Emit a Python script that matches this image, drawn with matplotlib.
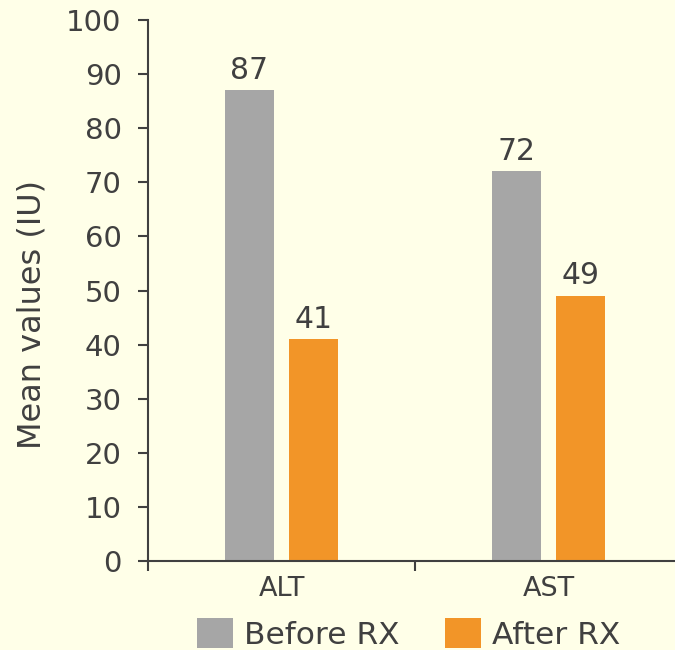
import matplotlib
matplotlib.use("Agg")
import matplotlib.pyplot as plt
import numpy as np

categories = ["ALT", "AST"]
series_names = ["Before RX", "After RX"]
before_rx = [87, 72]
after_rx = [41, 49]
y_ticks = [0, 10, 20, 30, 40, 50, 60, 70, 80, 90, 100]

bg = "#FFFFE8"
text_col = "#404040"
colors = ["#A6A6A6", "#F29528"]

plt.rcParams["font.family"] = ["DejaVu Sans"]

fig = plt.figure(figsize=(6.75, 6.5), dpi=100, facecolor=bg)
ax = fig.add_axes([148 / 675, 89 / 650, 534 / 675, 541 / 650], facecolor=bg)

x = np.arange(len(categories))
w = 0.183
off = 0.121
b1 = ax.bar(x - off, before_rx, w, color=colors[0], label=series_names[0])
b2 = ax.bar(x + off, after_rx, w, color=colors[1], label=series_names[1])

for bars, vals in ((b1, before_rx), (b2, after_rx)):
    for r, v in zip(bars, vals):
        ax.text(r.get_x() + r.get_width() / 2, v + 1.0, f"{v}", ha="center",
                va="bottom", fontsize=21.5, color=text_col)

ax.set_ylim(0, 100)
ax.set_xlim(-0.5, len(categories) - 0.5)
ax.set_yticks(y_ticks)
ax.set_yticklabels([str(t) for t in y_ticks], fontsize=21, color=text_col)

# category labels centered, ticks at category boundaries
boundaries = np.arange(-0.5, len(categories))
ax.set_xticks(boundaries)
ax.set_xticklabels([""] * len(boundaries))
ax.set_xticks(x, minor=True)
ax.set_xticklabels(categories, minor=True, fontsize=19.5, color=text_col)
ax.tick_params(axis="x", which="minor", length=0, pad=11)
ax.tick_params(axis="x", which="major", length=7, width=1.5, color=text_col)
ax.tick_params(axis="y", length=7, width=1.5, color=text_col, pad=12)

for s in ("top", "right"):
    ax.spines[s].set_visible(False)
for s in ("left", "bottom"):
    ax.spines[s].set_color(text_col)
    ax.spines[s].set_linewidth(1.5)

ax.set_ylabel("Mean values (IU)", fontsize=23, color=text_col)
ax.yaxis.label.set_va("center")
ax.yaxis.set_label_coords((32 - 148) / 534, 0.455)

leg = fig.legend(handles=[b1, b2], labels=series_names, loc="center",
                 bbox_to_anchor=(0.605, 16 / 650), ncol=2, frameon=False,
                 fontsize=22.5, handlelength=1.15, handleheight=1.1,
                 handletextpad=0.35, columnspacing=1.45, labelcolor=text_col,
                 borderpad=0)

fig.savefig("out.png", dpi=100, facecolor=bg)
